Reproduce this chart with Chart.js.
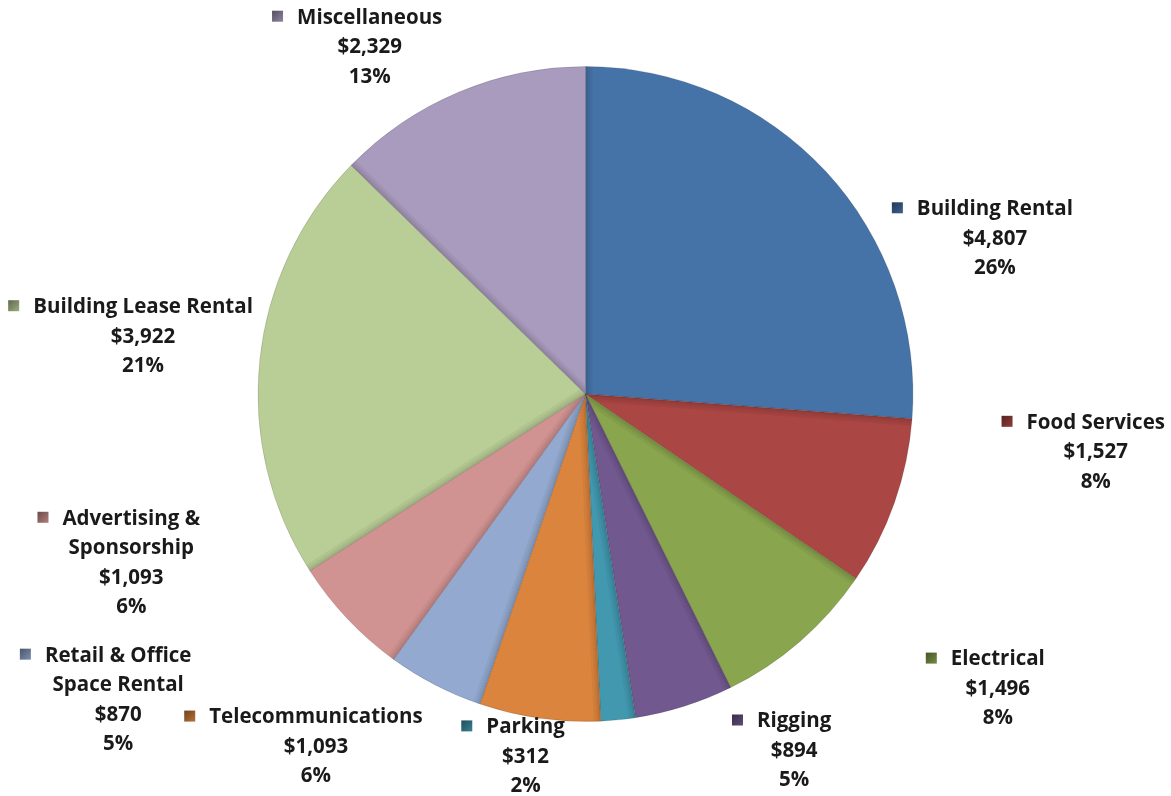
<!DOCTYPE html>
<html>
<head>
<meta charset="utf-8">
<script src="https://cdn.jsdelivr.net/npm/chart.js@4"></script>
<style>
  html, body { margin: 0; padding: 0; background: #fff; }
  #wrap { width: 1171px; height: 796px; }
</style>
</head>
<body>
<div id="wrap"><canvas id="chart-area"></canvas></div>
<script>
// slices, clockwise from 12 o'clock
var categories = [
	['Building Rental'],
	['Food Services'],
	['Electrical'],
	['Rigging'],
	['Parking'],
	['Telecommunications'],
	['Retail & Office', 'Space Rental'],
	['Advertising &', 'Sponsorship'],
	['Building Lease Rental'],
	['Miscellaneous']
]
var amounts = [4807, 1527, 1496, 894, 312, 1093, 870, 1093, 3922, 2329]

var sliceColors = [
	'#4572a7', '#aa4643', '#89a54e', '#71588f', '#4198af',
	'#db843d', '#93a9cf', '#d19392', '#b9cd96', '#a99bbd'
]
// where each label sits, relative to pie centre, in units of the radius
var labelOffsets = [
	[1.250, -0.564], [1.558, 0.088], [1.259, 0.811], [0.637, 1.000], [-0.183, 1.018],
	[-0.823, 0.988], [-1.427, 0.799], [-1.387, 0.381], [-1.351, -0.265], [-0.659, -1.149]
]

var total = amounts.reduce(function (a, b) { return a + b }, 0)

function shade(hex, f) {
	var n = parseInt(hex.slice(1), 16)
	var r = Math.round(((n >> 16) & 255) * f), g = Math.round(((n >> 8) & 255) * f), b = Math.round((n & 255) * f)
	return 'rgb(' + r + ',' + g + ',' + b + ')'
}

var labelPlugin = {
	id: 'sliceLabels',
	afterDatasetsDraw: function (chart) {
		var ctx = chart.ctx
		var meta = chart.getDatasetMeta(0)
		var lineH = 29.5

		// soft bevel along the leading edge of each slice
		meta.data.forEach(function (arc) {
			var R = arc.outerRadius
			ctx.save()
			ctx.beginPath()
			ctx.moveTo(arc.x, arc.y)
			ctx.arc(arc.x, arc.y, R, arc.startAngle, arc.endAngle)
			ctx.closePath()
			ctx.clip()
			var ex = arc.x + Math.cos(arc.startAngle) * (R + 4)
			var ey = arc.y + Math.sin(arc.startAngle) * (R + 4)
			;[14, 9, 5, 2].forEach(function (w) {
				ctx.strokeStyle = 'rgba(0,0,0,0.045)'
				ctx.lineWidth = w
				ctx.beginPath()
				ctx.moveTo(arc.x, arc.y)
				ctx.lineTo(ex, ey)
				ctx.stroke()
			})
			ctx.restore()
		})

		ctx.save()
		ctx.font = 'bold 20.5px "Open Sans"'
		ctx.textAlign = 'center'
		ctx.textBaseline = 'middle'
		meta.data.forEach(function (arc, i) {
			var R = arc.outerRadius
			var ax = arc.x + labelOffsets[i][0] * R
			var ay = arc.y + labelOffsets[i][1] * R
			var lines = categories[i].concat([
				'$' + amounts[i].toLocaleString('en-US'),
				Math.round(amounts[i] / total * 100) + '%'
			])
			var widest = 0
			categories[i].forEach(function (t) { widest = Math.max(widest, ctx.measureText(t).width) })
			lines.forEach(function (t, k) {
				ctx.fillStyle = '#1a1a1a'
				ctx.fillText(t, ax, ay + k * lineH)
			})
			// legend key
			var kx = ax - widest / 2 - 14 - 11
			var ky = ay - 7
			var grad = ctx.createLinearGradient(kx, ky, kx + 11, ky + 11)
			grad.addColorStop(0, shade(sliceColors[i], 0.5))
			grad.addColorStop(1, shade(sliceColors[i], 0.85))
			ctx.fillStyle = grad
			ctx.fillRect(kx, ky, 11, 11)
		})
		ctx.restore()
	}
}

var config = {
	type: 'pie',
	data: {
		labels: categories.map(function (c) { return c.join(' ') }),
		datasets: [{
			data: amounts,
			backgroundColor: sliceColors,
			borderWidth: 1,
			borderColor: 'rgba(0,0,0,0.12)'
		}]
	},
	options: {
		responsive: false,
		animation: false,
		layout: { padding: { top: 66, bottom: 74 } },
		plugins: {
			legend: { display: false },
			tooltip: { enabled: false }
		}
	},
	plugins: [labelPlugin]
}

window.onload = function () {
	var cv = document.getElementById('chart-area')
	cv.width = 1171
	cv.height = 796
	window.myPie = new Chart(cv.getContext('2d'), config)
}
</script>
</body>
</html>
